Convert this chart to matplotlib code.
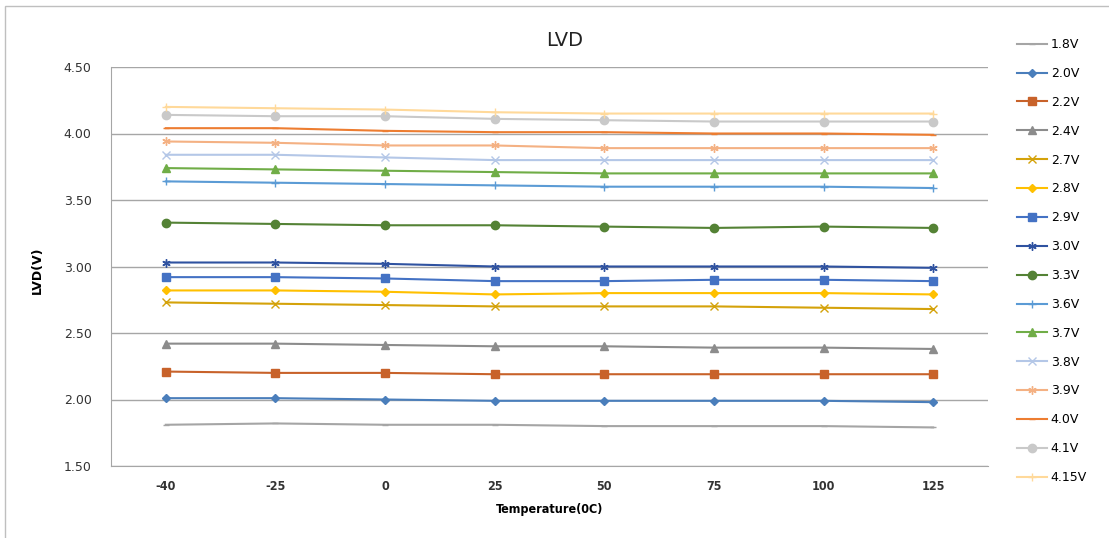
import matplotlib.pyplot as plt
from matplotlib.patches import Rectangle

temps = ['-40', '-25', '0', '25', '50', '75', '100', '125']
labels = ['1.8V', '2.0V', '2.2V', '2.4V', '2.7V', '2.8V', '2.9V', '3.0V',
          '3.3V', '3.6V', '3.7V', '3.8V', '3.9V', '4.0V', '4.1V', '4.15V']

v18 = [1.81, 1.82, 1.81, 1.81, 1.80, 1.80, 1.80, 1.79]
v20 = [2.01, 2.01, 2.00, 1.99, 1.99, 1.99, 1.99, 1.98]
v22 = [2.21, 2.20, 2.20, 2.19, 2.19, 2.19, 2.19, 2.19]
v24 = [2.42, 2.42, 2.41, 2.40, 2.40, 2.39, 2.39, 2.38]
v27 = [2.73, 2.72, 2.71, 2.70, 2.70, 2.70, 2.69, 2.68]
v28 = [2.82, 2.82, 2.81, 2.79, 2.80, 2.80, 2.80, 2.79]
v29 = [2.92, 2.92, 2.91, 2.89, 2.89, 2.90, 2.90, 2.89]
v30 = [3.03, 3.03, 3.02, 3.00, 3.00, 3.00, 3.00, 2.99]
v33 = [3.33, 3.32, 3.31, 3.31, 3.30, 3.29, 3.30, 3.29]
v36 = [3.64, 3.63, 3.62, 3.61, 3.60, 3.60, 3.60, 3.59]
v37 = [3.74, 3.73, 3.72, 3.71, 3.70, 3.70, 3.70, 3.70]
v38 = [3.84, 3.84, 3.82, 3.80, 3.80, 3.80, 3.80, 3.80]
v39 = [3.94, 3.93, 3.91, 3.91, 3.89, 3.89, 3.89, 3.89]
v40 = [4.04, 4.04, 4.02, 4.01, 4.01, 4.00, 4.00, 3.99]
v41 = [4.14, 4.13, 4.13, 4.11, 4.10, 4.09, 4.09, 4.09]
v415 = [4.20, 4.19, 4.18, 4.16, 4.15, 4.15, 4.15, 4.15]

series = [v18, v20, v22, v24, v27, v28, v29, v30, v33, v36, v37, v38, v39, v40, v41, v415]

star = (6, 2, 0)
styles = [
    ('#a5a5a5', '_', 5),
    ('#4a7ebb', 'D', 4),
    ('#c8622a', 's', 5.5),
    ('#8c8c8c', '^', 5.5),
    ('#d4a20a', 'x', 5.5),
    ('#ffc000', 'D', 4.5),
    ('#4472c4', 's', 6),
    ('#2f52a0', star, 6),
    ('#548235', 'o', 6),
    ('#5b9bd5', '+', 6),
    ('#70ad47', '^', 6),
    ('#b4c7e7', 'x', 6),
    ('#f4b183', star, 6),
    ('#ed7d31', '_', 4),
    ('#c9c9c9', 'o', 6),
    ('#ffd99a', '+', 6),
]

fig = plt.figure(figsize=(11.09, 5.38), dpi=100)
ax = fig.add_axes([111 / 1109, 1 - 466 / 538, (988 - 111) / 1109, 399 / 538])

x = range(len(temps))
for vals, lab, (c, m, ms) in zip(series, labels, styles):
    ax.plot(x, vals, color=c, marker=m, markersize=ms, linewidth=1.5,
            markeredgewidth=1.0, markeredgecolor=c, markerfacecolor=c, label=lab)

ax.set_xlim(-0.5, len(temps) - 0.5)
ax.set_ylim(1.5, 4.5)
ax.set_yticks([1.5, 2.0, 2.5, 3.0, 3.5, 4.0, 4.5])
ax.set_yticklabels(['%.2f' % t for t in [1.5, 2.0, 2.5, 3.0, 3.5, 4.0, 4.5]],
                   fontsize=9, color='#333333')
ax.set_xticks(list(x))
ax.set_xticklabels(temps, fontsize=9, fontweight='bold', fontstretch='condensed',
                   color='#333333')
ax.tick_params(length=0, pad=10)
ax.tick_params(axis='y', pad=14)
ax.grid(axis='y', color='#a6a6a6', linewidth=1)
ax.set_axisbelow(True)
for s in ['top', 'right']:
    ax.spines[s].set_visible(False)
for s in ['left', 'bottom']:
    ax.spines[s].set_color('#a6a6a6')

ax.set_xlabel('Temperature(0C)', fontsize=9, fontweight='bold',
              fontstretch='condensed', labelpad=7)
fig.text(37 / 1109, 1 - 270 / 538, 'LVD(V)', rotation=90, fontsize=9,
         fontweight='bold', ha='center', va='center')
fig.text(565 / 1109, 1 - 40 / 538, 'LVD', fontsize=14, ha='center',
         va='center', color='#222222')

leg = fig.legend(loc='upper left', bbox_to_anchor=(1012 / 1109, 1 - 33 / 538),
                 frameon=False, fontsize=9, handlelength=2.4, handletextpad=0.3,
                 labelspacing=1.27, borderaxespad=0)

fig.patches.append(Rectangle((5 / 1109, -0.1), 1.2, 1 - 6 / 538 + 0.1,
                             transform=fig.transFigure, fill=False,
                             edgecolor='#bfbfbf', linewidth=1))

fig.savefig('out.png', dpi=100)
